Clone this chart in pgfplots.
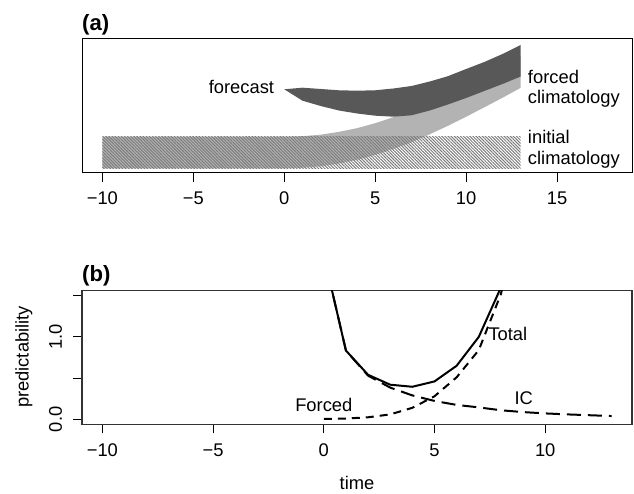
\documentclass[border=0pt]{standalone}
\usepackage{fontspec}
\setmainfont{Liberation Sans}
\usepackage{pgfplots}
\pgfplotsset{compat=1.18}
\usetikzlibrary{patterns.meta}
\definecolor{darkband}{HTML}{585858}
\definecolor{lightband}{HTML}{B3B3B3}
\definecolor{hatchcol}{HTML}{7C7C7C}
\begin{document}
\begin{tikzpicture}[x=1bp,y=1bp,font=\fontsize{18.4}{22}\selectfont]
\useasboundingbox (0,0) rectangle (634,494);
% ---------------- panel (a)
\begin{axis}[
  at={(82bp,321bp)}, anchor=south west,
  scale only axis, width=550bp, height=134bp,
  xmin=-11.12, xmax=19.12, ymin=0, ymax=134,
  axis line style={line width=1bp},
  xtick={-10,-5,0,5,10,15},
  xticklabels={−10,−5,0,5,10,15},
  ytick=\empty,
  xtick pos=bottom, tick align=outside,
  major tick length=9bp,
  tick style={line width=1bp,black},
  xticklabel style={anchor=base, yshift=-22.6bp, inner sep=0pt},
  clip=false,
]
% forced climatology (light band)
\addplot[fill=lightband, draw=none] coordinates {
 (-10,4.7) (0,4.7) (1,5.2) (2,6.7) (3,9.5) (4,13.2) (5,18.2) (6,24.2) (7,30.7)
 (8,38.7) (9,47.2) (10,56.2) (11,65.7) (12,75.2) (13,85.2)
 (13,116.8) (12,106.8) (11,97.3) (10,87.8) (9,78.8) (8,70.3) (7,62.3) (6,55.8)
 (5,49.8) (4,44.8) (3,41.1) (2,38.3) (1,36.8) (0,36.3) (-10,36.3)} -- cycle;
% forecast (dark band)
\addplot[fill=darkband, draw=none] coordinates {
 (0,83.7) (1,85.3) (2,84) (3,82.7) (4,82.3) (5,82.7) (6,84.5) (7,87) (8,91.5)
 (9,96.8) (10,104) (11,111) (12,119) (13,128)
 (13,96.5) (12,89) (11,82) (10,75) (9,68.5) (8,62.5) (7,57.7) (6,56.3) (5,57.3)
 (4,59.5) (3,62.5) (2,67) (1,72.3)} -- cycle;
% initial climatology (hatched)
\addplot[draw=none, pattern={Lines[angle=-45,distance=2.2bp,line width=1bp]}, pattern color=hatchcol]
 coordinates {(-10,4.7) (13,4.7) (13,36.3) (-10,36.3)} -- cycle;
\node[anchor=base east, inner sep=0pt] at (axis cs:-0.55,79.5) {forecast};
\node[anchor=base west, inner sep=0pt] at (axis cs:13.39,89.7) {forced};
\node[anchor=base west, inner sep=0pt] at (axis cs:13.39,69) {climatology};
\node[anchor=base west, inner sep=0pt] at (axis cs:13.39,29) {initial};
\node[anchor=base west, inner sep=0pt] at (axis cs:13.39,8) {climatology};
\end{axis}
% ---------------- panel (b)
\begin{axis}[
  at={(82bp,69.7bp)}, anchor=south west,
  scale only axis, width=550bp, height=133.6bp,
  xmin=-10.92, xmax=13.92, ymin=-0.06, ymax=1.56,
  axis line style={line width=1.2bp, black!80},
  xtick={-10,-5,0,5,10},
  xticklabels={−10,−5,0,5,10},
  ytick={0,0.5,1,1.5},
  yticklabels={0.0,,1.0,},
  xtick pos=bottom, ytick pos=left, tick align=outside,
  major tick length=9bp,
  tick style={line width=1bp,black},
  xticklabel style={anchor=base, yshift=-23.3bp, inner sep=0pt},
  yticklabel style={rotate=90, anchor=base, yshift=11bp, inner sep=0pt},
]
\addplot[black, line width=2bp] coordinates {
 (0,1.99) (1,0.834) (2,0.54) (3,0.42) (4,0.395) (5,0.46) (6,0.65) (7,1.0) (8,1.6)};
\addplot[black, line width=2bp, dash pattern=on 14bp off 7bp] coordinates {
 (0,1.99) (1,0.834) (2,0.53) (3,0.385) (4,0.29) (5,0.223) (6,0.175) (7,0.145)
 (8,0.11) (9,0.088) (10,0.072) (11,0.06) (12,0.05) (13,0.04)};
\addplot[black, line width=2bp, dash pattern=on 8bp off 6bp] coordinates {
 (0,0.005) (1,0.01) (2,0.025) (3,0.06) (4,0.14) (5,0.28) (6,0.51) (7,0.84) (8,1.52) (9,2.7)};
\node[anchor=base west, inner sep=0pt] at (axis cs:7.43,0.962) {Total};
\node[anchor=base, inner sep=0pt] at (axis cs:9.03,0.183) {IC};
\node[anchor=base, inner sep=0pt] at (axis cs:0,0.10) {Forced};
\end{axis}
% titles and labels
\node[anchor=base west, inner sep=0pt, font=\fontsize{22.2}{26}\selectfont\bfseries] at (82,463.5) {(a)};
\node[anchor=base west, inner sep=0pt, font=\fontsize{22.2}{26}\selectfont\bfseries] at (82,212.3) {(b)};
\node[rotate=90, anchor=center, inner sep=0pt] at (24,137) {predictability};
\node[anchor=base, inner sep=0pt] at (357,4) {time};
\end{tikzpicture}
\end{document}
